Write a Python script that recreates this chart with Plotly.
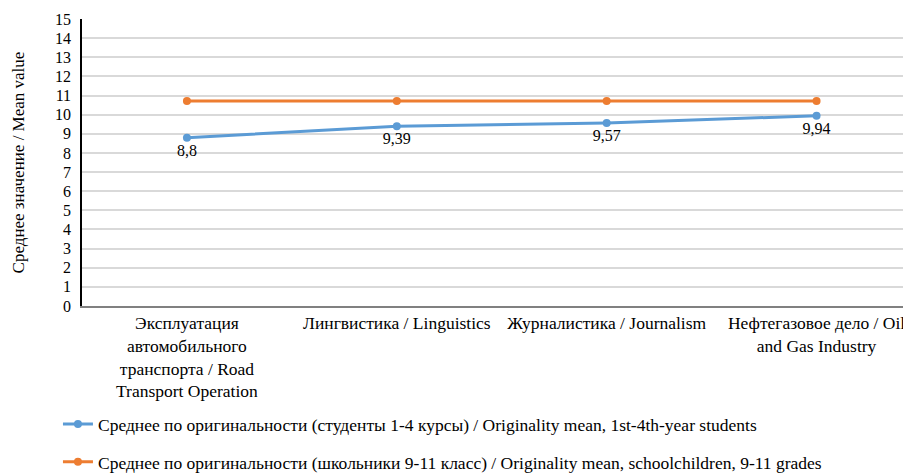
import plotly.graph_objects as go

categories = [
    "Эксплуатация<br>автомобильного<br>транспорта / Road<br>Transport Operation",
    "Лингвистика / Linguistics",
    "Журналистика / Journalism",
    "Нефтегазовое дело / Oil<br>and Gas Industry",
]
students = [8.8, 9.39, 9.57, 9.94]
schoolchildren = [10.71, 10.71, 10.71, 10.71]
name_students = "Среднее по оригинальности (студенты 1-4 курсы) / Originality mean, 1st-4th-year students"
name_school = "Среднее по оригинальности (школьники 9-11 класс) / Originality mean, schoolchildren, 9-11 grades"
y_ticks = list(range(0, 16))

FONT = "Liberation Serif, Times New Roman, serif"
x_idx = list(range(len(categories)))

fig = go.Figure()
fig.add_trace(go.Scatter(
    x=x_idx, y=students, name=name_students, legendgroup="a",
    mode="lines+markers+text",
    text=[str(v).replace(".", ",") for v in students],
    textposition="bottom center",
    textfont=dict(family=FONT, size=16, color="#000000"),
    line=dict(color="#5B9BD5", width=3),
    marker=dict(color="#5B9BD5", size=8),
))
fig.add_trace(go.Scatter(
    x=x_idx, y=schoolchildren, name=name_school, legendgroup="b",
    mode="lines+markers",
    line=dict(color="#ED7D31", width=3),
    marker=dict(color="#ED7D31", size=8),
))

fig.update_layout(
    width=911, height=480,
    margin=dict(l=74, r=8, t=11, b=180),
    paper_bgcolor="white", plot_bgcolor="white",
    font=dict(family=FONT, size=16, color="#000000"),
    showlegend=True,
    legend=dict(
        orientation="v", x=-0.029, y=-0.349, xanchor="left", yanchor="top",
        font=dict(family=FONT, size=17.5, color="#000000"),
        tracegroupgap=12, itemwidth=30,
    ),
    xaxis=dict(
        range=[-0.5, 3.45], tickmode="array", tickvals=x_idx, ticktext=categories,
        showgrid=False, showline=True, linecolor="#808080", linewidth=2,
        ticks="", zeroline=False, tickangle=0, automargin=False,
        tickfont=dict(family=FONT, size=17.5),
    ),
    yaxis=dict(
        range=[0, 15], tickmode="array", tickvals=y_ticks,
        showgrid=True, gridcolor="#D9D9D9", gridwidth=1.5,
        showline=True, linecolor="#000000", linewidth=1.5,
        ticks="", zeroline=False, automargin=False, ticklabelstandoff=6,
        tickfont=dict(family=FONT, size=16),
        title=dict(text="Среднее значение / Mean value", font=dict(family=FONT, size=17), standoff=26),
    ),
)

fig.write_html("out.html")
